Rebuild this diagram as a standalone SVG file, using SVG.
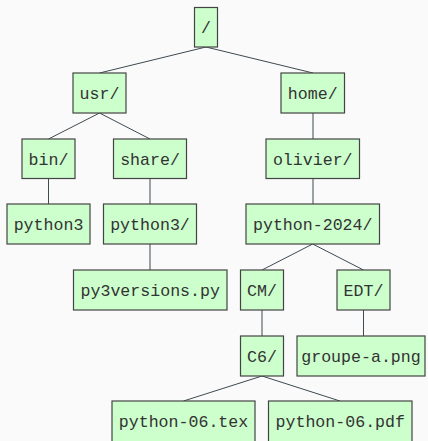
<svg xmlns="http://www.w3.org/2000/svg" width="428" height="441" viewBox="0 0 428 441">
<style>
.bg{fill:#fafafa}
.n rect{fill:#ccffcc;stroke:#444;stroke-width:1.2}
.n text{font-family:"Liberation Mono","DejaVu Sans Mono",monospace;font-size:16.6px;fill:#333;text-anchor:middle}
.e line{stroke:#3d4a50;stroke-width:1}
</style>
<rect class="bg" x="0" y="0" width="428" height="441"/>
<g class="e">
<line x1="206" y1="47" x2="99.5" y2="73"/>
<line x1="206" y1="47" x2="313" y2="73"/>
<line x1="99.5" y1="113" x2="48.5" y2="139"/>
<line x1="99.5" y1="113" x2="150" y2="139"/>
<line x1="313" y1="113" x2="313" y2="139"/>
<line x1="48.5" y1="178.5" x2="48.5" y2="204"/>
<line x1="150" y1="178.5" x2="150" y2="204"/>
<line x1="313" y1="178.5" x2="313" y2="204"/>
<line x1="150" y1="244" x2="150" y2="270"/>
<line x1="312.7" y1="244" x2="262" y2="270"/>
<line x1="312.7" y1="244" x2="363.5" y2="270"/>
<line x1="262" y1="310" x2="262" y2="336"/>
<line x1="363.5" y1="310" x2="363.5" y2="336"/>
<line x1="262" y1="376" x2="183.5" y2="401"/>
<line x1="262" y1="376" x2="340" y2="401"/>
</g>
<g id="root" class="n"><rect x="194.5" y="7.5" width="23" height="39.5"/><text x="206" y="33">/</text></g>
<g id="usr" class="n"><rect x="73" y="73" width="53" height="40"/><text x="99.5" y="99">usr/</text></g>
<g id="home" class="n"><rect x="281" y="73" width="63.5" height="40"/><text x="312.75" y="99">home/</text></g>
<g id="bin" class="n"><rect x="22" y="139" width="53" height="39.5"/><text x="48.5" y="165">bin/</text></g>
<g id="share" class="n"><rect x="113.5" y="139" width="73" height="39.5"/><text x="150" y="165">share/</text></g>
<g id="olivier" class="n"><rect x="266" y="139" width="93.5" height="39.5"/><text x="312.75" y="165">olivier/</text></g>
<g id="python3" class="n"><rect x="7" y="204" width="83" height="40"/><text x="48.5" y="230">python3</text></g>
<g id="python3dir" class="n"><rect x="103.5" y="204" width="93" height="40"/><text x="150" y="230">python3/</text></g>
<g id="python2024" class="n"><rect x="246" y="204" width="133.5" height="40"/><text x="312.75" y="230">python-2024/</text></g>
<g id="py3versions" class="n"><rect x="73.5" y="270" width="153.5" height="40"/><text x="150.25" y="296">py3versions.py</text></g>
<g id="CM" class="n"><rect x="240.5" y="270" width="43" height="40"/><text x="262" y="296">CM/</text></g>
<g id="EDT" class="n"><rect x="337" y="270" width="53" height="40"/><text x="363.5" y="296">EDT/</text></g>
<g id="C6" class="n"><rect x="240.5" y="336" width="43" height="40"/><text x="262" y="362">C6/</text></g>
<g id="groupe" class="n"><rect x="297" y="336" width="128" height="40"/><text x="361" y="362">groupe-a.png</text></g>
<g id="tex" class="n"><rect x="112" y="401" width="143" height="42"/><text x="183.5" y="427">python-06.tex</text></g>
<g id="pdf" class="n"><rect x="268.5" y="401" width="143.5" height="42"/><text x="340.25" y="427">python-06.pdf</text></g>
</svg>
